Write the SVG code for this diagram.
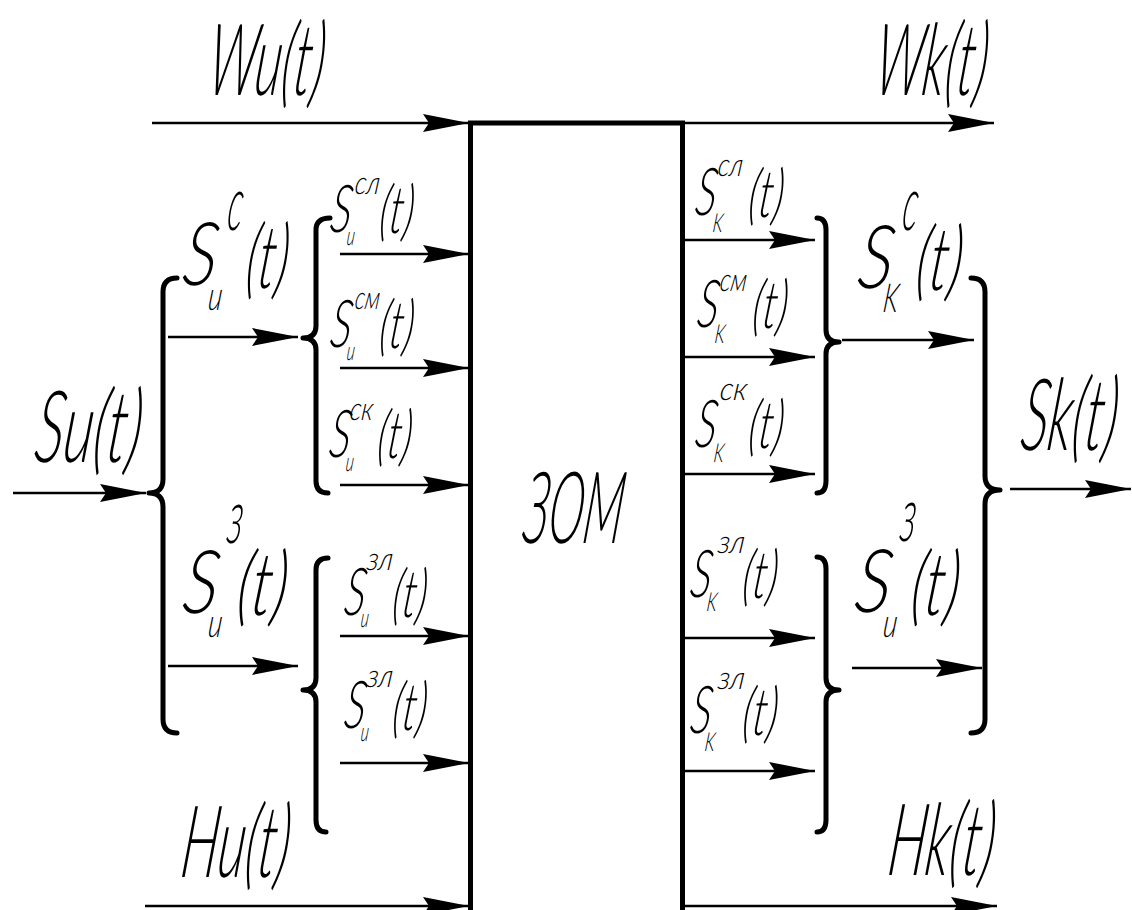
<svg xmlns="http://www.w3.org/2000/svg" width="1132" height="910" viewBox="0 0 1132 910">
  <style>
    text { font-family: Lato, Inter, "Liberation Sans", "DejaVu Sans", sans-serif; font-style: italic; font-weight: 300; fill: #000;
           transform-box: fill-box; transform-origin: 0% 80%; transform: skewX(-7deg); }
    .big { font-size: 100px; }
    .s2 { font-size: 88px; }
    .sub2 { font-size: 40px; }
    .sup2 { font-size: 76px; }
    .s3 { font-size: 66px; }
    .sub3 { font-size: 26px; }
    .sup3 { font-size: 32px; }
    .wire { stroke: #000; stroke-width: 2.6; fill: none; marker-end: url(#arrow); }
    .brace { stroke: #000; stroke-width: 5; fill: none; stroke-linecap: round; stroke-linejoin: round; }
    .block { stroke: #000; stroke-width: 5; fill: #fff; }
  </style>
  <defs>
    <marker id="arrow" markerUnits="userSpaceOnUse" viewBox="0 -10 48 20" markerWidth="48" markerHeight="20" refX="46" refY="0" orient="auto" overflow="visible">
      <path d="M0,-9 L46,0 L0,9 L6,0 Z" fill="#000"/>
    </marker>
  </defs>
  <rect width="1132" height="910" fill="#fff"/>

  <!-- central block -->
  <g id="zom">
    <rect class="block" x="470.5" y="123" width="212" height="800"/>
    <text class="big" x="521" y="543" textLength="100" lengthAdjust="spacingAndGlyphs">ЗОМ</text>
  </g>

  <!-- connectors -->
  <g id="connectors">
    <line class="wire" x1="152" y1="123" x2="469" y2="123"/>
    <line class="wire" x1="685" y1="123" x2="994" y2="123"/>
    <line class="wire" x1="145" y1="906" x2="469" y2="906"/>
    <line class="wire" x1="685" y1="906" x2="997" y2="906"/>
    <line class="wire" x1="13" y1="493" x2="146" y2="493"/>
    <line class="wire" x1="168" y1="337" x2="298" y2="337"/>
    <line class="wire" x1="168" y1="666" x2="298" y2="666"/>
    <line class="wire" x1="340" y1="254" x2="469" y2="254"/>
    <line class="wire" x1="340" y1="368" x2="469" y2="368"/>
    <line class="wire" x1="340" y1="485" x2="469" y2="485"/>
    <line class="wire" x1="340" y1="636" x2="469" y2="636"/>
    <line class="wire" x1="340" y1="763" x2="469" y2="763"/>
    <line class="wire" x1="685" y1="240" x2="815" y2="240"/>
    <line class="wire" x1="685" y1="357" x2="815" y2="357"/>
    <line class="wire" x1="685" y1="474" x2="815" y2="474"/>
    <line class="wire" x1="685" y1="638" x2="815" y2="638"/>
    <line class="wire" x1="685" y1="771" x2="815" y2="771"/>
    <line class="wire" x1="842" y1="340" x2="974" y2="340"/>
    <line class="wire" x1="852" y1="668" x2="982" y2="668"/>
    <line class="wire" x1="1010" y1="489" x2="1131" y2="489"/>
  </g>

  <!-- top and bottom streams -->
  <g id="wu">
    <text class="big" x="206" y="95" textLength="116" lengthAdjust="spacingAndGlyphs">Wu(t)</text>
  </g>
  <g id="wk">
    <text class="big" x="873" y="95" textLength="112" lengthAdjust="spacingAndGlyphs">Wk(t)</text>
  </g>
  <g id="hu">
    <text class="big" x="179" y="877" textLength="108" lengthAdjust="spacingAndGlyphs">Hu(t)</text>
  </g>
  <g id="hk">
    <text class="big" x="886" y="875" textLength="106" lengthAdjust="spacingAndGlyphs">Hk(t)</text>
  </g>

  <!-- input signal and its split -->
  <g id="su">
    <text class="big" x="33" y="462" textLength="106" lengthAdjust="spacingAndGlyphs">Su(t)</text>
    <path class="brace" d="M177,278 Q163,278 163,292 L163,479 Q163,493 149,493 Q163,493 163,507 L163,719 Q163,733 177,733"/>
  </g>

  <g id="su-c">
    <text class="s2" x="181" y="285" textLength="34" lengthAdjust="spacingAndGlyphs">S</text>
    <text class="sub2" x="207" y="310" textLength="14" lengthAdjust="spacingAndGlyphs">u</text>
    <text class="sup2" x="226" y="230" textLength="15" lengthAdjust="spacingAndGlyphs">с</text>
    <text class="s2" x="244" y="288" textLength="42" lengthAdjust="spacingAndGlyphs">(t)</text>
    <path class="brace" d="M330,218 Q316,218 316,230 L316,326 Q316,338 303,338 Q316,338 316,350 L316,481 Q316,493 328,493"/>
  </g>

  <g id="su-z">
    <text class="s2" x="181" y="613" textLength="35" lengthAdjust="spacingAndGlyphs">S</text>
    <text class="sub2" x="207" y="637" textLength="14" lengthAdjust="spacingAndGlyphs">u</text>
    <text class="sup2" x="226" y="543" textLength="15" lengthAdjust="spacingAndGlyphs">з</text>
    <text class="s2" x="235" y="615" textLength="50" lengthAdjust="spacingAndGlyphs">(t)</text>
    <path class="brace" d="M328,558 Q316,558 316,570 L316,678 Q316,690 303,690 Q316,690 316,702 L316,820 Q316,832 326,832"/>
  </g>

  <!-- left partial components -->
  <g id="su-cl">
    <text class="s3" x="329" y="232" textLength="21" lengthAdjust="spacingAndGlyphs">S</text>
    <text class="sub3" x="346" y="245" textLength="8" lengthAdjust="spacingAndGlyphs">u</text>
    <text class="sup3" x="354" y="194" textLength="25" lengthAdjust="spacingAndGlyphs">сл</text>
    <text class="s3" x="378" y="233" textLength="34" lengthAdjust="spacingAndGlyphs">(t)</text>
  </g>
  <g id="su-cm">
    <text class="s3" x="329" y="347" textLength="21" lengthAdjust="spacingAndGlyphs">S</text>
    <text class="sub3" x="346" y="360" textLength="8" lengthAdjust="spacingAndGlyphs">u</text>
    <text class="sup3" x="354" y="309" textLength="25" lengthAdjust="spacingAndGlyphs">см</text>
    <text class="s3" x="378" y="348" textLength="34" lengthAdjust="spacingAndGlyphs">(t)</text>
  </g>
  <g id="su-ck">
    <text class="s3" x="328" y="457" textLength="21" lengthAdjust="spacingAndGlyphs">S</text>
    <text class="sub3" x="345" y="471" textLength="8" lengthAdjust="spacingAndGlyphs">u</text>
    <text class="sup3" x="349" y="420" textLength="23" lengthAdjust="spacingAndGlyphs">ск</text>
    <text class="s3" x="376" y="458" textLength="34" lengthAdjust="spacingAndGlyphs">(t)</text>
  </g>
  <g id="su-zl1">
    <text class="s3" x="343" y="615" textLength="21" lengthAdjust="spacingAndGlyphs">S</text>
    <text class="sub3" x="360" y="627" textLength="8" lengthAdjust="spacingAndGlyphs">u</text>
    <text class="sup3" x="366" y="570" textLength="26" lengthAdjust="spacingAndGlyphs">зл</text>
    <text class="s3" x="391" y="617" textLength="34" lengthAdjust="spacingAndGlyphs">(t)</text>
  </g>
  <g id="su-zl2">
    <text class="s3" x="343" y="728" textLength="21" lengthAdjust="spacingAndGlyphs">S</text>
    <text class="sub3" x="360" y="741" textLength="8" lengthAdjust="spacingAndGlyphs">u</text>
    <text class="sup3" x="366" y="687" textLength="26" lengthAdjust="spacingAndGlyphs">зл</text>
    <text class="s3" x="391" y="730" textLength="34" lengthAdjust="spacingAndGlyphs">(t)</text>
  </g>

  <!-- right partial components -->
  <g id="sk-cl">
    <text class="s3" x="694" y="215" textLength="21" lengthAdjust="spacingAndGlyphs">S</text>
    <text class="sub3" x="712" y="232" textLength="10" lengthAdjust="spacingAndGlyphs">K</text>
    <text class="sup3" x="717" y="176" textLength="25" lengthAdjust="spacingAndGlyphs">сл</text>
    <text class="s3" x="747" y="217" textLength="35" lengthAdjust="spacingAndGlyphs">(t)</text>
  </g>
  <g id="sk-cm">
    <text class="s3" x="696" y="327" textLength="21" lengthAdjust="spacingAndGlyphs">S</text>
    <text class="sub3" x="714" y="343" textLength="10" lengthAdjust="spacingAndGlyphs">K</text>
    <text class="sup3" x="719" y="291" textLength="27" lengthAdjust="spacingAndGlyphs">см</text>
    <text class="s3" x="751" y="328" textLength="35" lengthAdjust="spacingAndGlyphs">(t)</text>
  </g>
  <g id="sk-ck">
    <text class="s3" x="694" y="447" textLength="21" lengthAdjust="spacingAndGlyphs">S</text>
    <text class="sub3" x="713" y="462" textLength="10" lengthAdjust="spacingAndGlyphs">K</text>
    <text class="sup3" x="719" y="400" textLength="27" lengthAdjust="spacingAndGlyphs">ск</text>
    <text class="s3" x="747" y="448" textLength="35" lengthAdjust="spacingAndGlyphs">(t)</text>
  </g>
  <g id="sk-zl1">
    <text class="s3" x="689" y="597" textLength="21" lengthAdjust="spacingAndGlyphs">S</text>
    <text class="sub3" x="706" y="611" textLength="10" lengthAdjust="spacingAndGlyphs">K</text>
    <text class="sup3" x="717" y="553" textLength="27" lengthAdjust="spacingAndGlyphs">зл</text>
    <text class="s3" x="741" y="598" textLength="35" lengthAdjust="spacingAndGlyphs">(t)</text>
  </g>
  <g id="sk-zl2">
    <text class="s3" x="689" y="733" textLength="21" lengthAdjust="spacingAndGlyphs">S</text>
    <text class="sub3" x="704" y="751" textLength="10" lengthAdjust="spacingAndGlyphs">K</text>
    <text class="sup3" x="717" y="689" textLength="27" lengthAdjust="spacingAndGlyphs">зл</text>
    <text class="s3" x="741" y="735" textLength="35" lengthAdjust="spacingAndGlyphs">(t)</text>
  </g>

  <!-- right merges -->
  <g id="sk-c">
    <path class="brace" d="M817,218 Q826,218 826,230 L826,330 Q826,342 839,342 Q826,342 826,354 L826,481 Q826,493 817,493"/>
    <text class="s2" x="856" y="288" textLength="35" lengthAdjust="spacingAndGlyphs">S</text>
    <text class="sub2" x="882" y="312" textLength="15" lengthAdjust="spacingAndGlyphs">K</text>
    <text class="sup2" x="901" y="230" textLength="15" lengthAdjust="spacingAndGlyphs">с</text>
    <text class="s2" x="914" y="290" textLength="46" lengthAdjust="spacingAndGlyphs">(t)</text>
  </g>
  <g id="sk-z">
    <path class="brace" d="M817,557 Q826,557 826,569 L826,678 Q826,690 839,690 Q826,690 826,702 L826,820 Q826,832 817,832"/>
    <text class="s2" x="853" y="612" textLength="36" lengthAdjust="spacingAndGlyphs">S</text>
    <text class="sub2" x="882" y="637" textLength="14" lengthAdjust="spacingAndGlyphs">u</text>
    <text class="sup2" x="899" y="541" textLength="15" lengthAdjust="spacingAndGlyphs">з</text>
    <text class="s2" x="909" y="615" textLength="48" lengthAdjust="spacingAndGlyphs">(t)</text>
  </g>
  <g id="sk">
    <path class="brace" d="M971,278 Q985,278 985,292 L985,476 Q985,490 1000,490 Q985,490 985,504 L985,719 Q985,733 971,733"/>
    <text class="big" x="1019" y="450" textLength="96" lengthAdjust="spacingAndGlyphs">Sk(t)</text>
  </g>
</svg>
